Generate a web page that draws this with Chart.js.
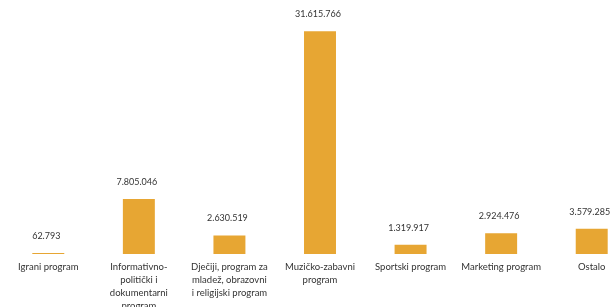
<!DOCTYPE html>
<html lang="hr">
<head>
    <meta charset="UTF-8">
    <title>Programi</title>
    <script src="https://cdn.jsdelivr.net/npm/chart.js"></script>
    <style>
        html, body { margin: 0; padding: 0; background: #fff; overflow: hidden; }
        #okvir { width: 611px; height: 307px; overflow: hidden; position: relative; }
        #grafikon { position: absolute; left: 0; top: 0; }
    </style>
</head>
<body>
<div id="okvir">
    <div id="grafikon" style="width: 640px; height: 318px;">
        <canvas id="myChartCanvas"></canvas>
    </div>
</div>
<script>
// kategorije (prelomljene u redove kao na slici)
const kategorije = [
    'Igrani program',
    ['Informativno-', 'politički i', 'dokumentarni', 'program'],
    ['Dječiji, program za', 'mladež, obrazovni', 'i religijski program'],
    ['Muzičko-zabavni', 'program'],
    'Sportski program',
    'Marketing program',
    'Ostalo'
];

const vrijednosti = [62793, 7805046, 2630519, 31615766, 1319917, 2924476, 3579285];

const bojaStupca = '#E7A633';

function formatBroj(n) {
    return String(n).replace(/\B(?=(\d{3})+(?!\d))/g, '.');
}

const oznakeVrijednosti = {
    id: 'oznakeVrijednosti',
    afterDatasetsDraw(chart) {
        const ctx = chart.ctx;
        const meta = chart.getDatasetMeta(0);
        ctx.save();
        ctx.font = '9px Lato';
        ctx.fillStyle = '#333';
        ctx.textAlign = 'center';
        ctx.textBaseline = 'middle';
        meta.data.forEach(function (bar, i) {
            ctx.fillText(formatBroj(vrijednosti[i]), bar.x - 2, bar.y - 17);
        });
        ctx.restore();
    }
};

const config = {
    type: 'bar',
    data: {
        labels: kategorije,
        datasets: [{
            data: vrijednosti,
            backgroundColor: bojaStupca,
            borderWidth: 0,
            barPercentage: 1,
            categoryPercentage: 0.353,
            minBarLength: 1
        }]
    },
    options: {
        responsive: true,
        maintainAspectRatio: false,
        animation: false,
        layout: { padding: { left: 3, right: 3, top: 8, bottom: 0 } },
        plugins: {
            legend: { display: false },
            tooltip: { enabled: false }
        },
        scales: {
            x: {
                grid: { display: false, drawTicks: false },
                border: { display: false },
                ticks: {
                    color: '#333',
                    font: { family: 'Lato', size: 9.5, lineHeight: 1.37 },
                    padding: 6,
                    maxRotation: 0,
                    autoSkip: false
                }
            },
            y: {
                display: false,
                min: 0,
                max: 34900000
            }
        }
    },
    plugins: [oznakeVrijednosti]
};

new Chart(document.getElementById('myChartCanvas'), config);
</script>
</body>
</html>
